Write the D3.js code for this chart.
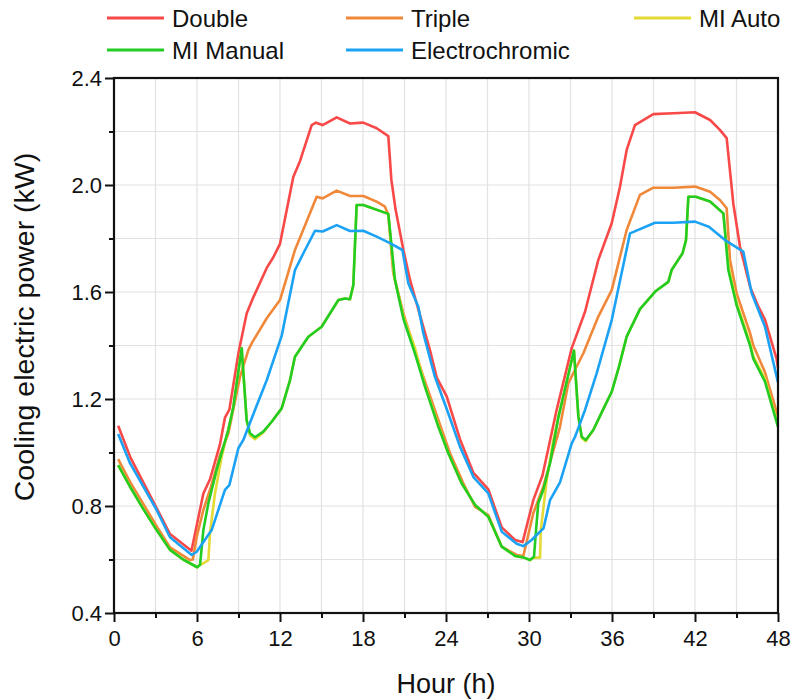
<!DOCTYPE html>
<html>
<head>
<meta charset="utf-8">
<script src="https://cdn.jsdelivr.net/npm/d3@7"></script>
<style>
  body { margin: 0; background: #fff; }
  text { font-family: "Liberation Sans", Arial, sans-serif; fill: #111; }
</style>
</head>
<body>
<div id="chart"></div>
<script>
// series names / colours (legend order = draw order)
const seriesNames = ['Double', 'Triple', 'MI Auto', 'MI Manual', 'Electrochromic'];
const seriesColors = ['#f84848', '#f0883a', '#e4da34', '#22cc22', '#1ca2f4'];

// [hour, kW]
const double = [[0.3,1.10],[1.2,0.98],[3.1,0.79],[4.05,0.695],[5.6,0.633],[6.46,0.847],[6.94,0.90],[7.66,1.03],[8.02,1.13],[8.34,1.16],[8.99,1.37],[9.59,1.52],[10.07,1.58],[11.04,1.69],[11.52,1.73],[12.0,1.78],[12.96,2.03],[13.45,2.09],[14.29,2.224],[14.6,2.233],[15.08,2.224],[16.1,2.253],[17.06,2.23],[18.02,2.233],[18.99,2.212],[19.83,2.183],[20.05,2.02],[20.35,1.91],[20.92,1.757],[21.4,1.645],[22.3,1.48],[22.84,1.383],[23.33,1.28],[24.05,1.21],[25.01,1.05],[25.97,0.925],[27.06,0.862],[28.03,0.72],[28.99,0.673],[29.54,0.665],[30.31,0.822],[30.98,0.915],[32.0,1.16],[33.09,1.39],[34.05,1.526],[35.01,1.72],[35.98,1.857],[36.58,1.994],[37.06,2.131],[37.66,2.224],[38.99,2.265],[40.43,2.268],[42.0,2.272],[43.09,2.243],[43.8,2.206],[44.29,2.175],[44.77,1.93],[45.25,1.77],[45.98,1.62],[46.58,1.545],[47.06,1.497],[47.9,1.35],[48.0,1.315]];
const triple = [[0.3,0.975],[1.16,0.89],[3.08,0.725],[4.05,0.645],[5.5,0.598],[5.7,0.60],[5.98,0.685],[6.46,0.785],[7.0,0.87],[7.66,0.99],[8.27,1.072],[9.11,1.283],[9.71,1.383],[9.95,1.408],[11.04,1.502],[12.0,1.57],[13.08,1.757],[13.57,1.819],[14.65,1.956],[15.08,1.95],[16.1,1.979],[17.06,1.959],[18.02,1.959],[18.99,1.938],[19.59,1.919],[19.83,1.888],[20.19,1.67],[20.92,1.52],[22.36,1.283],[23.45,1.121],[24.29,0.997],[25.25,0.885],[26.1,0.797],[27.06,0.766],[28.03,0.648],[29.11,0.617],[29.59,0.613],[30.31,0.773],[31.03,0.872],[32.24,1.096],[32.84,1.259],[33.93,1.371],[35.01,1.508],[35.98,1.607],[37.06,1.832],[38.02,1.963],[38.99,1.99],[40.43,1.99],[42.0,1.994],[43.09,1.975],[43.8,1.944],[44.29,1.913],[44.53,1.72],[45.01,1.595],[45.98,1.446],[46.22,1.40],[47.06,1.30],[48.0,1.134]];
const miAuto = [[0.3,0.953],[1.16,0.872],[2.1,0.79],[3.08,0.71],[4.05,0.636],[5.0,0.60],[5.49,0.586],[6.02,0.571],[6.22,0.58],[6.46,0.586],[6.82,0.598],[6.94,0.70],[7.3,0.847],[7.78,0.984],[8.26,1.084],[8.63,1.171],[9.23,1.39],[9.59,1.121],[9.83,1.065],[10.19,1.05],[10.79,1.075],[11.4,1.115],[12.12,1.165],[12.72,1.27],[13.08,1.358],[14.05,1.433],[15.01,1.47],[16.22,1.57],[16.7,1.576],[17.06,1.573],[17.3,1.626],[17.54,1.925],[18.02,1.925],[19.83,1.892],[20.25,1.66],[20.92,1.51],[21.76,1.39],[22.48,1.25],[23.45,1.10],[24.17,0.997],[25.13,0.885],[26.1,0.804],[27.06,0.76],[28.03,0.648],[29.0,0.613],[29.59,0.608],[30.07,0.598],[30.36,0.607],[30.8,0.607],[30.85,0.71],[31.28,0.897],[31.76,1.047],[32.12,1.134],[33.09,1.346],[33.25,1.381],[33.57,1.134],[33.81,1.055],[34.1,1.042],[34.65,1.084],[35.37,1.162],[35.98,1.227],[36.5,1.32],[37.06,1.433],[38.02,1.536],[39.17,1.604],[40.07,1.638],[40.31,1.682],[41.1,1.745],[41.35,1.794],[41.52,1.956],[42.06,1.956],[43.09,1.938],[44.05,1.894],[44.45,1.69],[45.01,1.56],[45.98,1.41],[46.22,1.36],[47.06,1.275],[48.0,1.10]];
const miManual = [[0.3,0.953],[1.16,0.872],[2.1,0.79],[3.08,0.71],[4.05,0.636],[5.0,0.60],[5.49,0.586],[6.02,0.571],[6.22,0.58],[6.46,0.71],[6.82,0.81],[7.42,0.935],[8.26,1.084],[8.63,1.171],[9.23,1.39],[9.59,1.121],[9.83,1.072],[10.19,1.057],[10.79,1.078],[11.4,1.115],[12.12,1.165],[12.72,1.27],[13.08,1.358],[14.05,1.433],[15.01,1.47],[16.22,1.57],[16.7,1.576],[17.06,1.573],[17.3,1.626],[17.54,1.925],[18.02,1.925],[19.83,1.892],[20.31,1.645],[20.92,1.50],[21.76,1.37],[22.48,1.246],[23.45,1.096],[24.17,0.997],[25.13,0.885],[26.1,0.804],[27.06,0.76],[28.03,0.648],[29.0,0.613],[29.59,0.608],[30.07,0.598],[30.36,0.61],[30.51,0.71],[30.67,0.81],[31.03,0.86],[31.52,0.96],[32.12,1.13],[33.09,1.346],[33.25,1.381],[33.57,1.134],[33.81,1.059],[34.1,1.047],[34.65,1.084],[35.37,1.162],[35.98,1.227],[36.5,1.32],[37.06,1.433],[38.02,1.536],[39.17,1.604],[40.07,1.638],[40.31,1.682],[41.1,1.745],[41.35,1.794],[41.52,1.956],[42.06,1.956],[43.09,1.938],[44.05,1.894],[44.41,1.682],[45.01,1.55],[45.98,1.40],[46.22,1.35],[47.06,1.265],[48.0,1.096]];
const electrochromic = [[0.3,1.069],[1.16,0.96],[3.08,0.785],[4.05,0.683],[5.62,0.617],[5.98,0.629],[7.06,0.71],[8.02,0.86],[8.34,0.878],[8.99,1.016],[9.35,1.047],[10.19,1.159],[11.04,1.27],[12.12,1.436],[13.08,1.682],[13.69,1.745],[14.53,1.829],[15.08,1.826],[16.1,1.85],[17.06,1.828],[18.02,1.829],[18.99,1.807],[19.95,1.783],[20.85,1.757],[21.28,1.632],[22.0,1.545],[22.36,1.446],[23.2,1.283],[24.17,1.146],[25.01,1.022],[26.0,0.907],[27.06,0.847],[28.03,0.704],[29.11,0.659],[29.59,0.65],[30.19,0.673],[31.05,0.717],[31.52,0.822],[32.24,0.888],[33.09,1.034],[33.33,1.059],[34.05,1.159],[34.89,1.296],[35.98,1.495],[37.3,1.819],[39.11,1.859],[40.43,1.859],[42.0,1.863],[43.0,1.844],[44.17,1.794],[45.49,1.751],[46.1,1.595],[47.06,1.47],[48.0,1.262]];

// axis ticks
const hourTicks = [0, 6, 12, 18, 24, 30, 36, 42, 48];
const hourMinor = [3, 9, 15, 21, 27, 33, 39, 45];
const kwTicks = [0.4, 0.8, 1.2, 1.6, 2.0, 2.4];
const kwMinor = [0.6, 1.0, 1.4, 1.8, 2.2];

const W = 792, H = 700;
const m = { top: 78, right: 14, bottom: 87, left: 114 };

const svg = d3.select('#chart').append('svg').attr('width', W).attr('height', H);

const x = d3.scaleLinear().domain([0, 48]).range([m.left, W - m.right]);
const y = d3.scaleLinear().domain([0.4, 2.4]).range([H - m.bottom, m.top]);

// grid lines
const grid = svg.append('g').attr('stroke', '#e2e2e2').attr('stroke-width', 1.2);
grid.selectAll('line.gx').data(hourTicks.concat(hourMinor)).join('line').attr('class', 'gx')
  .attr('x1', d => x(d)).attr('x2', d => x(d)).attr('y1', y(0.4)).attr('y2', y(2.4));
grid.selectAll('line.gy').data(kwTicks.concat(kwMinor)).join('line').attr('class', 'gy')
  .attr('y1', d => y(d)).attr('y2', d => y(d)).attr('x1', x(0)).attr('x2', x(48));

// lines
const data = [double, triple, miAuto, miManual, electrochromic];
const line = d3.line().x(d => x(d[0])).y(d => y(d[1]));
svg.append('g').selectAll('path').data(data).join('path')
  .attr('d', line)
  .attr('fill', 'none')
  .attr('stroke', (d, i) => seriesColors[i])
  .attr('stroke-width', 2.6)
  .attr('stroke-linejoin', 'round');

// axes
svg.append('g').attr('transform', `translate(0,${y(0.4)})`)
  .call(d3.axisBottom(x).tickValues(hourTicks).tickSize(9).tickPadding(8));
svg.append('g').attr('transform', `translate(0,${y(0.4)})`)
  .call(d3.axisBottom(x).tickValues(hourMinor).tickSize(5).tickFormat(''));
svg.append('g').attr('transform', `translate(${x(0)},0)`)
  .call(d3.axisLeft(y).tickValues(kwTicks).tickSize(9).tickPadding(3).tickFormat(d3.format('.1f')));
svg.append('g').attr('transform', `translate(${x(0)},0)`)
  .call(d3.axisLeft(y).tickValues(kwMinor).tickSize(5).tickFormat(''));
svg.selectAll('.domain').remove();
svg.selectAll('.tick line').attr('stroke', '#111').attr('stroke-width', 2);
svg.selectAll('.tick text').style('font-size', '22px').attr('fill', '#111');

// frame
svg.append('rect')
  .attr('x', x(0)).attr('y', y(2.4))
  .attr('width', x(48) - x(0)).attr('height', y(0.4) - y(2.4))
  .attr('fill', 'none').attr('stroke', '#111').attr('stroke-width', 2.2);

// axis titles
svg.append('text').attr('x', (x(0) + x(48)) / 2).attr('y', 693)
  .attr('text-anchor', 'middle').style('font-size', '27px').text('Hour (h)');
svg.append('text').attr('transform', 'translate(34,327) rotate(-90)')
  .attr('text-anchor', 'middle').style('font-size', '28.5px').text('Cooling electric power (kW)');

// legend
const legendPos = [[107, 18], [346, 18], [634, 18], [107, 50], [346, 50]];
const leg = svg.append('g').selectAll('g').data(seriesNames).join('g')
  .attr('transform', (d, i) => `translate(${legendPos[i][0]},${legendPos[i][1]})`);
leg.append('line').attr('x1', 0).attr('x2', 57).attr('y1', 0).attr('y2', 0)
  .attr('stroke', (d, i) => seriesColors[i]).attr('stroke-width', 3);
leg.append('text').attr('x', 65).attr('y', 8.5).style('font-size', '24px').text(d => d);
</script>
</body>
</html>
